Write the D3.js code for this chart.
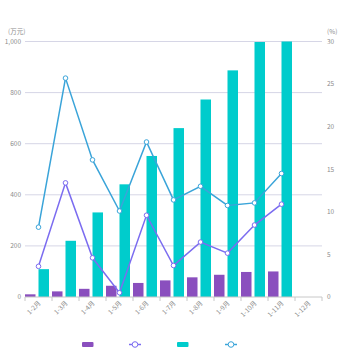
<!DOCTYPE html>
<html>
<head>
<meta charset="utf-8">
<script src="https://cdn.jsdelivr.net/npm/d3@7/dist/d3.min.js"></script>
<style>
  html, body { margin: 0; padding: 0; background: #fff; }
  svg { display: block; font-family: "Noto Sans CJK SC", "Noto Sans", sans-serif; }
</style>
</head>
<body>
<div id="chart"></div>
<script>
const categories = ["1-2月", "1-3月", "1-4月", "1-5月", "1-6月", "1-7月", "1-8月", "1-9月", "1-10月", "1-11月", "1-12月"];
const purpleBars = [10.5, 22, 32, 44, 55, 65, 77, 87, 98, 100, null];
const tealBars = [109, 220, 331, 441, 552, 661, 773, 887, 998, 1108, null];
const purpleLine = [3.6, 13.4, 4.6, 0.5, 9.6, 3.7, 6.45, 5.15, 8.45, 10.9, null];
const blueLine = [8.2, 25.7, 16.1, 10.1, 18.2, 11.4, 13.0, 10.75, 11.05, 14.5, null];
const leftTicks = [0, 200, 400, 600, 800, 1000];
const rightTicks = [0, 5, 10, 15, 20, 25, 30];

const width = 350, height = 350;
const margin = { top: 41.5, right: 28, bottom: 53, left: 25 };
const innerWidth = width - margin.left - margin.right;
const innerHeight = height - margin.top - margin.bottom;

const colors = { purpleBar: "#8a4fbe", tealBar: "#00cccc", purpleLine: "#7b6cf0", blueLine: "#3aa4d9" };

const svg = d3.select("#chart").append("svg")
  .attr("width", width)
  .attr("height", height);

const inner = svg.append("g")
  .attr("transform", `translate(${margin.left},${margin.top})`);

const xScale = d3.scaleBand()
  .domain(categories)
  .range([0, innerWidth]);

const xSub = d3.scaleBand()
  .domain(["a", "b"])
  .range([-13.5, 10.5])
  .paddingInner(0.222);

const yLeft = d3.scaleLinear().domain([0, 1000]).range([innerHeight, 0]).clamp(true);
const yRight = d3.scaleLinear().domain([0, 30]).range([innerHeight, 0]);

// Grid lines
inner.append("g")
  .selectAll("line")
  .data(leftTicks.slice(1))
  .enter()
  .append("line")
  .attr("x1", 0)
  .attr("x2", innerWidth)
  .attr("y1", d => yLeft(d))
  .attr("y2", d => yLeft(d))
  .attr("stroke", "#d6d6e6")
  .attr("stroke-width", 1);

const cx = c => xScale(c) + xScale.bandwidth() / 2;

// Bars
const barData = categories.map((c, i) => ({ c, p: purpleBars[i], t: tealBars[i] }));

inner.selectAll(".bar-p")
  .data(barData.filter(d => d.p != null))
  .enter()
  .append("rect")
  .attr("x", d => cx(d.c) + xSub("a"))
  .attr("width", xSub.bandwidth())
  .attr("y", d => yLeft(d.p))
  .attr("height", d => innerHeight - yLeft(d.p))
  .attr("fill", colors.purpleBar);

inner.selectAll(".bar-t")
  .data(barData.filter(d => d.t != null))
  .enter()
  .append("rect")
  .attr("x", d => cx(d.c) + xSub("b"))
  .attr("width", xSub.bandwidth())
  .attr("y", d => yLeft(d.t))
  .attr("height", d => innerHeight - yLeft(d.t))
  .attr("fill", colors.tealBar);

// X axis
const xAxis = inner.append("g")
  .attr("transform", `translate(0,${innerHeight})`);

xAxis.append("line")
  .attr("x1", 0).attr("x2", innerWidth)
  .attr("stroke", "#c8c8c8");

xAxis.selectAll(".tick-mark")
  .data(d3.range(categories.length + 1))
  .enter()
  .append("line")
  .attr("x1", i => i * xScale.step())
  .attr("x2", i => i * xScale.step())
  .attr("y1", 0).attr("y2", 4)
  .attr("stroke", "#c8c8c8");

xAxis.selectAll(".x-label")
  .data(categories)
  .enter()
  .append("text")
  .attr("transform", d => `translate(${cx(d) + 1},5) rotate(-45)`)
  .attr("text-anchor", "end")
  .attr("dy", "0.35em")
  .attr("font-size", "6.5px")
  .attr("fill", "#8c8c8c")
  .text(d => d);

// Left axis labels
inner.append("g")
  .selectAll("text")
  .data(leftTicks)
  .enter()
  .append("text")
  .attr("x", -4)
  .attr("y", d => yLeft(d))
  .attr("dy", "0.35em")
  .attr("text-anchor", "end")
  .attr("font-size", "6.5px")
  .attr("fill", "#8c8c8c")
  .text(d => d3.format(",")(d));

// Right axis labels
inner.append("g")
  .selectAll("text")
  .data(rightTicks)
  .enter()
  .append("text")
  .attr("x", innerWidth + 5)
  .attr("y", d => yRight(d))
  .attr("dy", "0.35em")
  .attr("text-anchor", "start")
  .attr("font-size", "6.5px")
  .attr("fill", "#8c8c8c")
  .text(d => d);

// Unit labels
inner.append("text")
  .attr("x", -17)
  .attr("y", -8)
  .attr("font-size", "6.5px")
  .attr("fill", "#8c8c8c")
  .text("(万元)");

inner.append("text")
  .attr("x", innerWidth + 5)
  .attr("y", -8)
  .attr("font-size", "6.5px")
  .attr("fill", "#8c8c8c")
  .text("(%)");

// Lines
function drawLine(values, color) {
  const pts = categories.map((c, i) => ({ c, v: values[i] })).filter(d => d.v != null);
  const line = d3.line()
    .x(d => cx(d.c))
    .y(d => yRight(d.v));
  inner.append("path")
    .datum(pts)
    .attr("d", line)
    .attr("fill", "none")
    .attr("stroke", color)
    .attr("stroke-width", 1.5);
  inner.selectAll(null)
    .data(pts)
    .enter()
    .append("circle")
    .attr("cx", d => cx(d.c))
    .attr("cy", d => yRight(d.v))
    .attr("r", 2.3)
    .attr("fill", "#fff")
    .attr("stroke", color)
    .attr("stroke-width", 1);
}

drawLine(blueLine, colors.blueLine);
drawLine(purpleLine, colors.purpleLine);

// Legend (symbols only)
const legendItems = [
  { type: "rect", color: colors.purpleBar, x: 82 },
  { type: "line", color: colors.purpleLine, x: 129 },
  { type: "rect", color: colors.tealBar, x: 177 },
  { type: "line", color: colors.blueLine, x: 225 }
];
const legend = svg.append("g").attr("transform", "translate(0,344.5)");
legendItems.forEach(item => {
  if (item.type === "rect") {
    legend.append("rect")
      .attr("x", item.x).attr("y", -2.5)
      .attr("width", 11.5).attr("height", 5)
      .attr("rx", 1)
      .attr("fill", item.color);
  } else {
    legend.append("line")
      .attr("x1", item.x).attr("x2", item.x + 12)
      .attr("stroke", item.color).attr("stroke-width", 1.5);
    legend.append("circle")
      .attr("cx", item.x + 6).attr("r", 2.8)
      .attr("fill", "#fff")
      .attr("stroke", item.color).attr("stroke-width", 1);
  }
});
</script>
</body>
</html>
